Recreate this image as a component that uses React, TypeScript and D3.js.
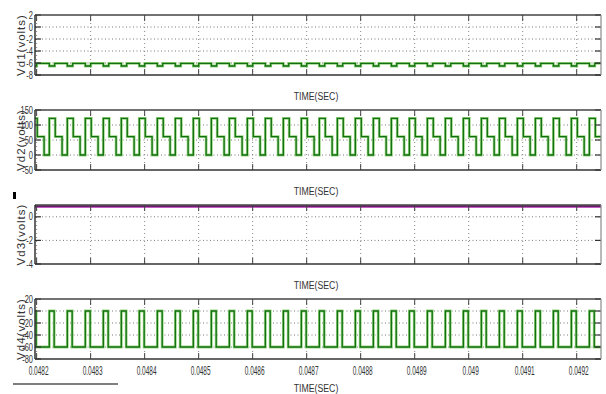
import React from "react";
import * as d3 from "d3";

// ---------- data ----------
const xTickValues = [0.0482, 0.0483, 0.0484, 0.0485, 0.0486, 0.0487, 0.0488, 0.0489, 0.049, 0.0491, 0.0492];
const xTickLabels = ["0.0482", "0.0483", "0.0484", "0.0485", "0.0486", "0.0487", "0.0488", "0.0489", "0.049", "0.0491", "0.0492"];
const timeDomain = [0.048197, 0.049245];
const switchingPeriod = 0.0001 / 3; // three cycles per 0.0001 s
const firstRise = 0.0482235;

const seriesNames = ["Vd1(volts)", "Vd2(volts)", "Vd3(volts)", "Vd4(volts)"];
const xAxisTitle = "TIME(SEC)";

const vd1YDomain = [-8, 2];
const vd1YTicks = [-8, -6, -4, -2, 0, 2];
const vd1Levels = [-6.5, -6.05];
const vd1Durations = [0.3, 0.7];

const vd2YDomain = [-50, 150];
const vd2YTicks = [-50, 0, 50, 100, 150];
const vd2Levels = [122, 61, 0];
const vd2Durations = [0.33, 0.38, 0.29];

const vd3YDomain = [-4, 1];
const vd3YTicks = [-4, -2, 0];
const vd3Levels = [0.9];
const vd3Durations = [1];

const vd4YDomain = [-80, 20];
const vd4YTicks = [-80, -60, -40, -20, 0, 20];
const vd4Levels = [0, -60];
const vd4Durations = [0.27, 0.73];

// ---------- layout ----------
const W = 606;
const H = 394;
const plotLeft = 35;
const plotRight = 601;
const panelTops = [15, 110, 205, 299];
const panelBottoms = [75, 170, 264, 359];
const tickLen = 6;
const font = "'Liberation Sans', Arial, sans-serif";

const panelsData = [
  { yDomain: vd1YDomain, yTicks: vd1YTicks, levels: vd1Levels, durations: vd1Durations, dark: "#136f13", halo: "#9ad882", hw: 2.8 },
  { yDomain: vd2YDomain, yTicks: vd2YTicks, levels: vd2Levels, durations: vd2Durations, dark: "#136f13", halo: "#9ad882", hw: 2.8 },
  { yDomain: vd3YDomain, yTicks: vd3YTicks, levels: vd3Levels, durations: vd3Durations, dark: "#4a0c4a", halo: "#c45ec4", hw: 3.6 },
  { yDomain: vd4YDomain, yTicks: vd4YTicks, levels: vd4Levels, durations: vd4Durations, dark: "#136f13", halo: "#9ad882", hw: 2.8 },
];

function buildSteps(levels: number[], durations: number[]) {
  const pts: [number, number][] = [];
  let start = firstRise - 2 * switchingPeriod;
  while (start < timeDomain[1] + switchingPeriod) {
    let t = start;
    levels.forEach((lv, i) => {
      pts.push([t, lv]);
      t += durations[i] * switchingPeriod;
    });
    start += switchingPeriod;
  }
  pts.push([start, levels[0]]);
  return pts;
}

function SText({ x, y, sx, size, anchor, children, fill = "#222", rotate = 0, spacing = 0 }: any) {
  return (
    <text
      transform={`translate(${x},${y}) rotate(${rotate}) scale(${sx},1)`}
      fontSize={size}
      fontFamily={font}
      textAnchor={anchor}
      fill={fill}
      letterSpacing={spacing}
    >
      {children}
    </text>
  );
}

export default function App() {
  const x = d3.scaleLinear().domain(timeDomain).range([plotLeft, plotRight]);

  return (
    <svg width={W} height={H} style={{ position: "absolute", left: 0, top: 0, background: "#fff" }}>
      <rect x={0} y={0} width={W} height={H} fill="#fff" />
      <defs>
        {panelTops.map((top, i) => (
          <clipPath id={`clip${i}`} key={i}>
            <rect x={plotLeft} y={top} width={plotRight - plotLeft} height={panelBottoms[i] - top} />
          </clipPath>
        ))}
      </defs>
      {panelsData.map((p, i) => {
        const top = panelTops[i];
        const bottom = panelBottoms[i];
        const y = d3.scaleLinear().domain(p.yDomain).range([bottom, top]);
        const pts = buildSteps(p.levels, p.durations);
        const line = d3
          .line<[number, number]>()
          .x((d) => x(d[0]))
          .y((d) => y(d[1]))
          .curve(d3.curveStepAfter);
        const path = line(pts) || "";
        const interiorY = p.yTicks.filter((v) => v > p.yDomain[0] && v < p.yDomain[1]);
        return (
          <g key={i}>
            {/* grid */}
            {interiorY.map((v) => (
              <line key={"gy" + v} x1={plotLeft} x2={plotRight} y1={y(v)} y2={y(v)} stroke="#777" strokeWidth={1} strokeDasharray="1,2.5" />
            ))}
            {xTickValues.map((v) => (
              <line key={"gx" + v} x1={x(v)} x2={x(v)} y1={top} y2={bottom} stroke="#888" strokeWidth={1} strokeDasharray="1,3" />
            ))}
            {/* signal */}
            <g clipPath={`url(#clip${i})`}>
              <path d={path} fill="none" stroke={p.halo} strokeWidth={p.hw} />
              <path d={path} fill="none" stroke={p.dark} strokeWidth={1.3} />
            </g>
            {/* ticks */}
            {xTickValues.map((v) => (
              <g key={"tx" + v}>
                <line x1={x(v)} x2={x(v)} y1={top} y2={top + tickLen} stroke="#444" strokeWidth={1} />
                <line x1={x(v)} x2={x(v)} y1={bottom} y2={bottom - tickLen} stroke="#444" strokeWidth={1} />
              </g>
            ))}
            {p.yTicks.map((v) => (
              <g key={"ty" + v}>
                <line x1={plotLeft} x2={plotLeft + tickLen} y1={y(v)} y2={y(v)} stroke="#333" strokeWidth={1.2} />
                <line x1={plotRight} x2={plotRight - tickLen} y1={y(v)} y2={y(v)} stroke="#333" strokeWidth={1.2} />
              </g>
            ))}
            {/* box */}
            <line x1={plotLeft} x2={plotRight} y1={top} y2={top} stroke="#444" strokeWidth={1.3} />
            <line x1={plotLeft} x2={plotRight} y1={bottom} y2={bottom} stroke="#333" strokeWidth={1.5} />
            <line x1={plotLeft} x2={plotLeft} y1={top} y2={bottom} stroke="#333" strokeWidth={1.5} />
            <line x1={plotRight} x2={plotRight} y1={top} y2={bottom} stroke="#8a8a8a" strokeWidth={1.2} />
            {/* y tick labels */}
            {p.yTicks.map((v) => (
              <SText key={"yl" + v} x={33} y={y(v) + 3.5} sx={0.75} size={10} anchor="end" fill="#333">
                {String(v)}
              </SText>
            ))}
            {/* y axis title */}
            <SText x={24.5} y={(top + bottom) / 2} sx={1} size={11.5} anchor="middle" rotate={-90} fill="#333" spacing={1}>
              {seriesNames[i]}
            </SText>
            {/* x axis title */}
            <SText x={316} y={i === 3 ? 392 : bottom + 25} sx={0.76} size={11.5} anchor="middle" fill="#333">
              {xAxisTitle}
            </SText>
            {/* x tick labels (bottom panel only) */}
            {i === 3 &&
              xTickValues.map((v, k) => (
                <SText key={"xl" + v} x={x(v) + 2} y={375} sx={0.52} size={12.5} anchor="middle" fill="#333">
                  {xTickLabels[k]}
                </SText>
              ))}
          </g>
        );
      })}
      {/* small artifacts in the original */}
      <rect x={13} y={192} width={3} height={7} fill="#000" />
      <line x1={13} x2={118} y1={384} y2={384} stroke="#555" strokeWidth={1.5} />
    </svg>
  );
}
